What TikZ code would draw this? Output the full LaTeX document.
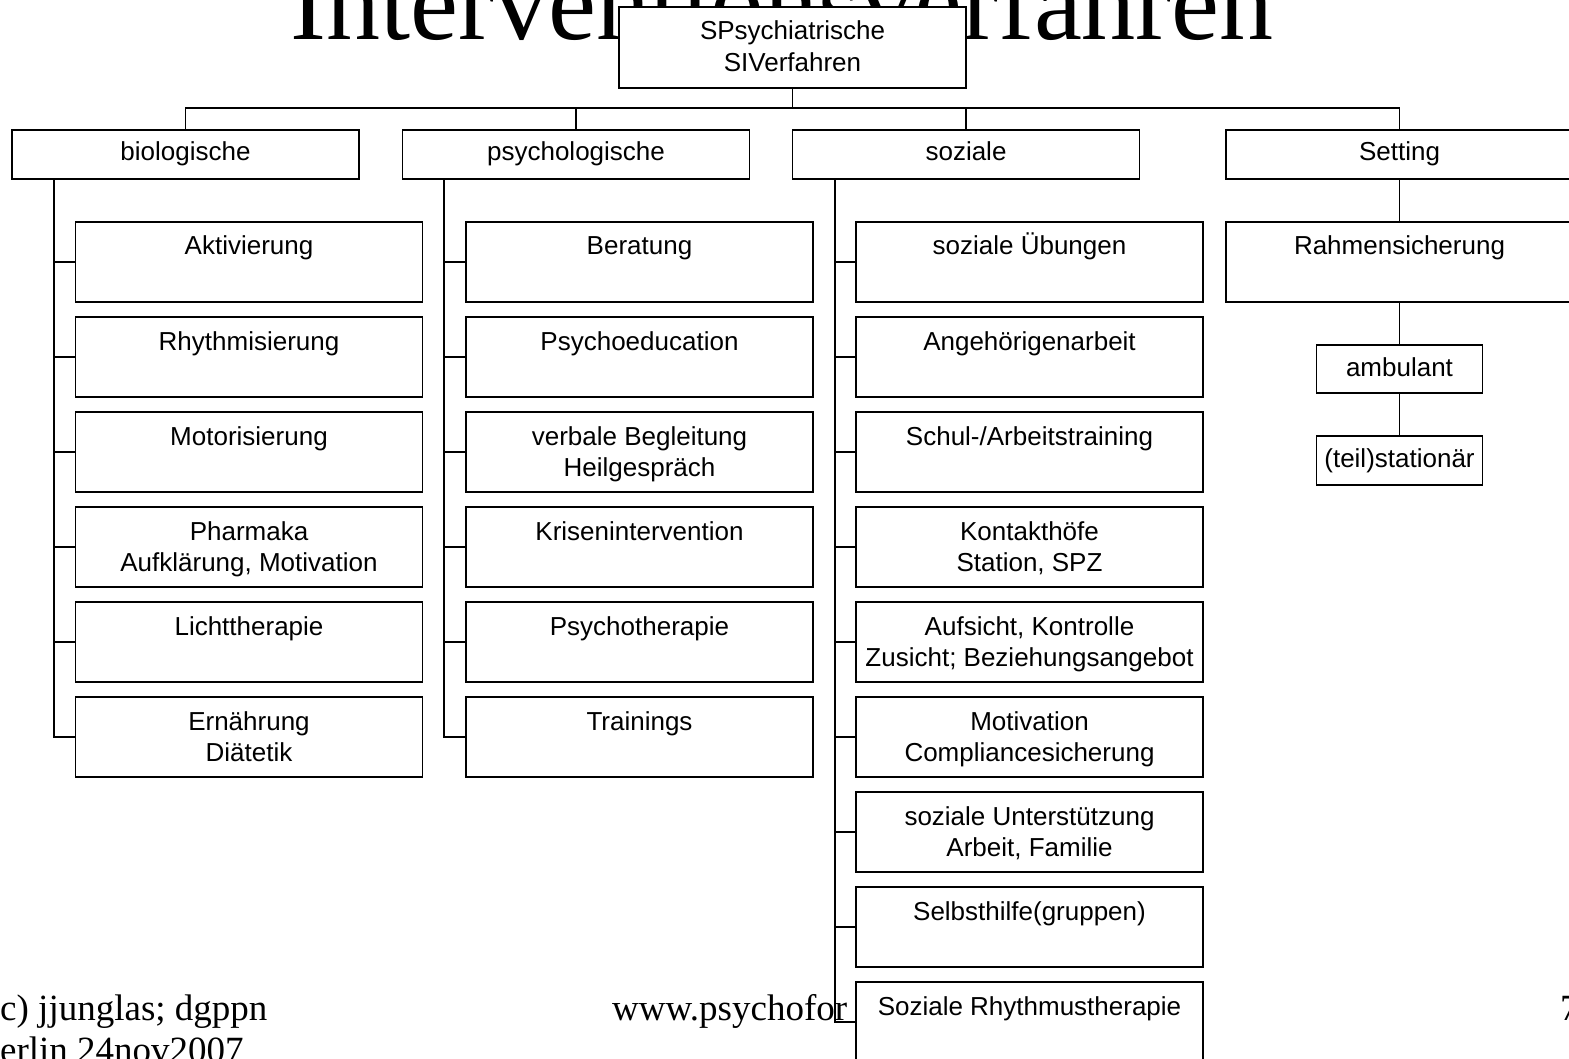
\documentclass[tikz,border=0pt]{standalone}
\usepackage{fontspec}
\setmainfont{Liberation Sans}
\newfontfamily\serifont{Liberation Serif}
\begin{document}
\begin{tikzpicture}[x=1pt,y=-1pt,
  box/.style={draw, line width=1.8pt, fill=white, inner sep=0pt, align=center, font=\fontsize{26}{31}\selectfont},
  childbox/.style={box, minimum width=347pt, minimum height=80pt, text height=25pt, text depth=39pt},
  twoline/.style={text height=56pt, text depth=8pt},
  headbox/.style={box, minimum width=347pt, minimum height=49pt, text height=18pt, text depth=6pt},
  smallbox/.style={box, minimum width=166pt, text height=19pt, text depth=5pt},
  conn/.style={line width=1.8pt},
  foot/.style={font=\serifont\fontsize{37}{42}\selectfont, inner sep=0pt, anchor=base west}
]
\clip (0,0) rectangle (1569,1059);
\fill[white] (0,0) rectangle (1569,1059);

% title and footer (partly hidden)
\node[inner sep=0pt, anchor=base, font=\serifont\fontsize{108}{120}\selectfont] (title) at (782,40) {Interventionsverfahren};
\node[foot] (copy) at (-12.3,1020) {(c) jjunglas; dgppn};
\node[foot] (place) at (-24.7,1062) {Berlin 24nov2007};
\node[foot] (www) at (612,1020) {www.psychofor};
\node[foot] (page) at (1560,1020) {7};

% root
\node[box, minimum width=347pt, minimum height=81pt, text height=58pt, text depth=9pt,
      font=\fontsize{26}{32}\selectfont] (root) at (792.5,47.5) {SPsychiatrische\\SIVerfahren};

% level 1
\node[headbox] (bio) at (185.5,154.5) {biologische};
\node[headbox] (psy) at (576,154.5) {psychologische};
\node[headbox] (soz) at (966,154.5) {soziale};
\node[headbox] (set) at (1399.5,154.5) {Setting};

% biologische
\node[childbox] (b1) at (249,262) {Aktivierung};
\node[childbox] (b2) at (249,357) {Rhythmisierung};
\node[childbox] (b3) at (249,452) {Motorisierung};
\node[childbox, twoline] (b4) at (249,547) {Pharmaka\\Aufklärung, Motivation};
\node[childbox] (b5) at (249,642) {Lichttherapie};
\node[childbox, twoline] (b6) at (249,737) {Ernährung\\Diätetik};

% psychologische
\node[childbox] (p1) at (639.5,262) {Beratung};
\node[childbox] (p2) at (639.5,357) {Psychoeducation};
\node[childbox, twoline] (p3) at (639.5,452) {verbale Begleitung\\Heilgespräch};
\node[childbox] (p4) at (639.5,547) {Krisenintervention};
\node[childbox] (p5) at (639.5,642) {Psychotherapie};
\node[childbox] (p6) at (639.5,737) {Trainings};

% soziale
\node[childbox] (s1) at (1029.5,262) {soziale Übungen};
\node[childbox] (s2) at (1029.5,357) {Angehörigenarbeit};
\node[childbox] (s3) at (1029.5,452) {Schul-/Arbeitstraining};
\node[childbox, twoline] (s4) at (1029.5,547) {Kontakthöfe\\Station, SPZ};
\node[childbox, twoline] (s5) at (1029.5,642) {Aufsicht, Kontrolle\\Zusicht; Beziehungsangebot};
\node[childbox, twoline] (s6) at (1029.5,737) {Motivation\\Compliancesicherung};
\node[childbox, twoline] (s7) at (1029.5,832) {soziale Unterstützung\\Arbeit, Familie};
\node[childbox] (s8) at (1029.5,927) {Selbsthilfe(gruppen)};
\node[childbox] (s9) at (1029.5,1022) {Soziale Rhythmustherapie};

% setting
\node[childbox] (rahmen) at (1399.5,262) {Rahmensicherung};
\node[smallbox, minimum height=48pt] (amb) at (1399.5,369) {ambulant};
\node[smallbox, minimum height=49pt] (stat) at (1399.5,460.5) {(teil)stationär};

% connectors
\coordinate (bus) at (0,108);
\coordinate (sp1) at (54,0);
\coordinate (sp2) at (444,0);
\coordinate (sp3) at (835,0);

\draw[conn] (root.south) -- (root.south |- bus);
\draw[conn] (bio.north) -- (bio.north |- bus) -- (set.north |- bus) -- (set.north);
\draw[conn] (psy.north) -- (psy.north |- bus);
\draw[conn] (soz.north) -- (soz.north |- bus);

\draw[conn] (bio.south -| sp1) -- (b6.west -| sp1) -- (b6.west);
\foreach \n in {b1,b2,b3,b4,b5}{\draw[conn] (\n.west -| sp1) -- (\n.west);}
\draw[conn] (psy.south -| sp2) -- (p6.west -| sp2) -- (p6.west);
\foreach \n in {p1,p2,p3,p4,p5}{\draw[conn] (\n.west -| sp2) -- (\n.west);}
\draw[conn] (soz.south -| sp3) -- (s9.west -| sp3) -- (s9.west);
\foreach \n in {s1,s2,s3,s4,s5,s6,s7,s8}{\draw[conn] (\n.west -| sp3) -- (\n.west);}

\draw[conn] (set.south) -- (rahmen.north);
\draw[conn] (rahmen.south) -- (amb.north);
\draw[conn] (amb.south) -- (stat.north);
\end{tikzpicture}
\end{document}
